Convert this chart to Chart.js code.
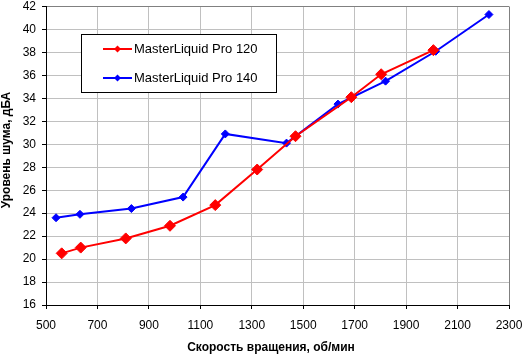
<!DOCTYPE html>
<html>
<head>
<meta charset="utf-8">
<script src="https://cdn.jsdelivr.net/npm/chart.js@4"></script>
<style>
  html, body { margin: 0; padding: 0; background: #ffffff; }
  #wrap { width: 522px; height: 356px; }
</style>
</head>
<body>
<div id="wrap"><canvas id="c" width="522" height="356"></canvas></div>
<script>
// ---- data ----
const seriesNames = ["MasterLiquid Pro 120", "MasterLiquid Pro 140"];
const speed120 = [561, 635, 810, 982, 1158, 1321, 1470, 1687, 1803, 2006];
const noise120 = [20.5, 21.0, 21.8, 22.9, 24.7, 27.8, 30.7, 34.1, 36.1, 38.2];
const speed140 = [539, 632, 832, 1033, 1197, 1435, 1635, 1820, 2015, 2222];
const noise140 = [23.6, 23.9, 24.4, 25.4, 30.9, 30.1, 33.5, 35.5, 38.1, 41.3];
const xMin = 500, xMax = 2300, xStep = 200;
const yMin = 16, yMax = 42, yStep = 2;
const xTitle = "Скорость вращения, об/мин";
const yTitle = "Уровень шума, дБА";

const FONT = "'Liberation Sans', Arial, sans-serif";

function pts(xs, ys) { return xs.map((x, i) => ({ x: x, y: ys[i] })); }

const titlesPlugin = {
  id: 'axisTitles',
  afterDraw(chart) {
    const ctx = chart.ctx;
    ctx.save();
    ctx.fillStyle = '#000';
    ctx.font = "bold 12px " + FONT;
    ctx.textAlign = 'center';
    ctx.textBaseline = 'middle';
    ctx.fillText(xTitle, 271, 348);
    ctx.translate(7, 150);
    ctx.rotate(-Math.PI / 2);
    ctx.fillText(yTitle, 0, 0);
    ctx.restore();
  }
};

const legendPlugin = {
  id: 'boxLegend',
  afterDraw(chart) {
    const ctx = chart.ctx;
    ctx.save();
    ctx.fillStyle = '#fff';
    ctx.fillRect(81, 34, 196, 59);
    ctx.strokeStyle = '#000';
    ctx.lineWidth = 1;
    ctx.strokeRect(81.5, 34.5, 195, 58);
    chart.data.datasets.forEach((ds, i) => {
      const y = 49 + i * 29;
      ctx.strokeStyle = ds.borderColor;
      ctx.lineWidth = 2;
      ctx.beginPath();
      ctx.moveTo(103, y);
      ctx.lineTo(132, y);
      ctx.stroke();
      ctx.fillStyle = ds.borderColor;
      ctx.beginPath();
      const r = 3.5;
      ctx.moveTo(117.5, y - r);
      ctx.lineTo(117.5 + r, y);
      ctx.lineTo(117.5, y + r);
      ctx.lineTo(117.5 - r, y);
      ctx.closePath();
      ctx.fill();
      ctx.fillStyle = '#000';
      ctx.font = "13px " + FONT;
      ctx.textAlign = 'left';
      ctx.textBaseline = 'middle';
      ctx.fillText(ds.label, 134, y);
    });
    ctx.restore();
  }
};

new Chart(document.getElementById('c'), {
  type: 'scatter',
  data: {
    datasets: [
      {
        label: seriesNames[0],
        data: pts(speed120, noise120),
        showLine: true,
        borderColor: '#ff0000',
        backgroundColor: '#ff0000',
        borderWidth: 2,
        pointStyle: 'rectRot',
        pointRadius: 5.5,
        pointBorderWidth: 1,
        tension: 0
      },
      {
        label: seriesNames[1],
        data: pts(speed140, noise140),
        showLine: true,
        borderColor: '#0000ff',
        backgroundColor: '#0000ff',
        borderWidth: 2,
        pointStyle: 'rectRot',
        pointRadius: 4,
        pointBorderWidth: 1,
        tension: 0
      }
    ]
  },
  options: {
    responsive: false,
    animation: false,
    devicePixelRatio: 1,
    layout: { padding: { top: 5, right: 13, left: 0, bottom: 0 } },
    plugins: {
      legend: { display: false },
      tooltip: { enabled: false }
    },
    scales: {
      x: {
        type: 'linear',
        min: xMin, max: xMax,
        ticks: {
          stepSize: xStep,
          color: '#000',
          font: { family: FONT, size: 12 },
          padding: 9,
          maxRotation: 0,
          autoSkip: false,
          callback: (v) => String(v)
        },
        grid: {
          color: (c) => (c.tick && c.tick.value === xMax) ? '#808080' : '#c0c0c0',
          tickColor: '#000',
          tickLength: 4,
          lineWidth: 1
        },
        border: { color: '#000', width: 1 },
        afterFit(scale) {
          scale.height = 51;
          scale.paddingLeft = 0; scale.paddingRight = 0;
          scale.paddingTop = 0; scale.paddingBottom = 0;
        }
      },
      y: {
        type: 'linear',
        min: yMin, max: yMax,
        ticks: {
          stepSize: yStep,
          color: '#000',
          font: { family: FONT, size: 12 },
          padding: 6,
          autoSkip: false,
          callback: (v) => String(v)
        },
        grid: {
          color: (c) => (c.tick && c.tick.value === yMax) ? '#808080' : '#c0c0c0',
          tickColor: '#000',
          tickLength: 4,
          lineWidth: 1
        },
        border: { color: '#000', width: 1 },
        afterFit(scale) {
          scale.width = 46;
          scale.paddingLeft = 0; scale.paddingRight = 0;
          scale.paddingTop = 0; scale.paddingBottom = 0;
        }
      }
    }
  },
  plugins: [titlesPlugin, legendPlugin]
});
</script>
</body>
</html>
